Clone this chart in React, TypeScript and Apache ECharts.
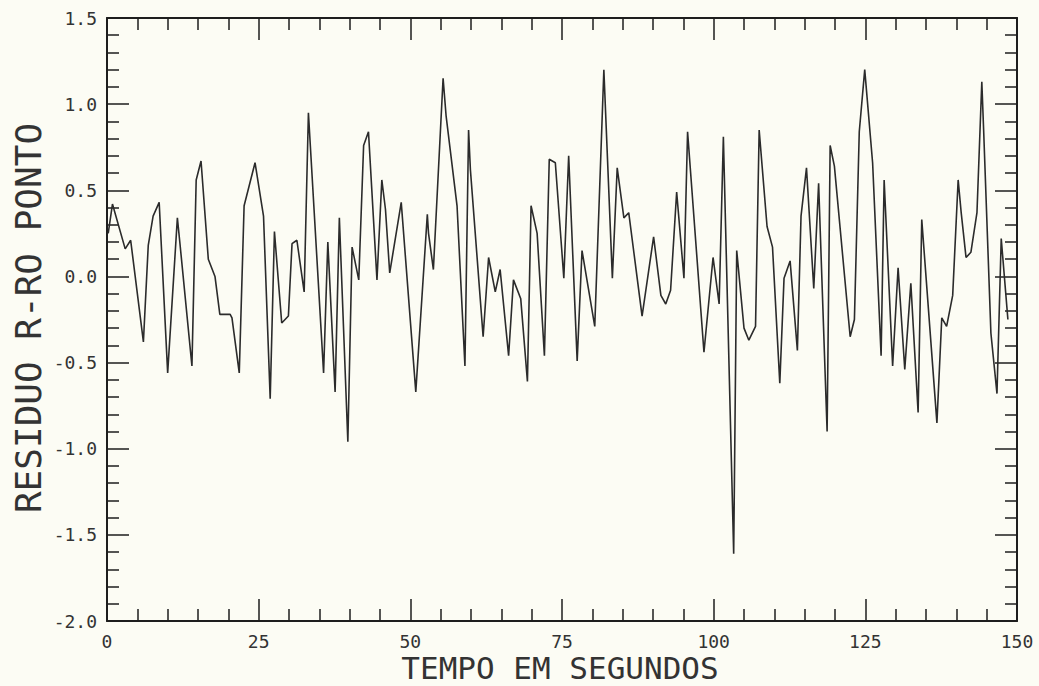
import React, { useEffect, useRef } from "react";
import * as echarts from "echarts";

const times = [
  0.2, 0.9, 3.0, 3.9, 6.0, 6.8, 7.6, 8.6, 10.0, 11.6,
  12.0, 14.0, 14.7, 15.5, 16.7, 17.8, 18.6, 20.3, 20.6, 21.8,
  22.6, 24.4, 25.8, 26.9, 27.6, 28.8, 29.9, 30.5, 31.3, 32.5,
  33.2, 35.7, 36.4, 37.6, 38.3, 39.7, 40.4, 41.5, 42.3, 43.1,
  44.5, 45.3, 45.9, 46.6, 48.5, 50.9, 52.8, 53.0, 53.8, 55.4,
  55.9, 57.7, 59.0, 59.6, 59.9, 62.0, 62.9, 64.0, 64.8, 66.2,
  67.0, 68.2, 69.3, 69.9, 70.9, 72.1, 72.9, 73.9, 75.3, 76.1,
  77.5, 78.3, 80.4, 81.9, 83.3, 84.1, 85.2, 86.0, 88.2, 90.1,
  91.3, 92.1, 92.9, 93.9, 95.1, 95.7, 98.4, 99.9, 100.9, 101.6,
  103.3, 103.8, 105.0, 105.8, 106.9, 107.5, 108.8, 109.7, 110.9, 111.6,
  112.6, 113.8, 114.4, 115.3, 116.5, 117.3, 118.7, 119.2, 119.9, 122.5,
  123.2, 124.0, 124.9, 126.2, 127.6, 128.1, 129.5, 130.4, 131.5, 132.5,
  133.7, 134.3, 136.8, 137.6, 138.4, 139.4, 140.3, 140.8, 141.6, 142.4,
  143.4, 144.2, 144.5, 145.7, 146.7, 147.4, 148.5,
];

const residuals = [
  0.25, 0.42, 0.16, 0.21, -0.38, 0.18, 0.35, 0.43, -0.56, 0.34,
  0.2, -0.52, 0.56, 0.67, 0.1, 0.0, -0.22, -0.22, -0.24, -0.56,
  0.41, 0.66, 0.35, -0.71, 0.26, -0.27, -0.23, 0.19, 0.21, -0.09,
  0.95, -0.56, 0.2, -0.67, 0.34, -0.96, 0.17, -0.02, 0.76, 0.84,
  -0.02, 0.56, 0.39, 0.02, 0.43, -0.67, 0.36, 0.25, 0.04, 1.15,
  0.93, 0.41, -0.52, 0.85, 0.62, -0.35, 0.11, -0.09, 0.04, -0.46,
  -0.02, -0.13, -0.61, 0.41, 0.25, -0.46, 0.68, 0.66, -0.01, 0.7,
  -0.49, 0.15, -0.29, 1.2, -0.01, 0.63, 0.34, 0.37, -0.23, 0.23,
  -0.11, -0.16, -0.08, 0.49, -0.01, 0.84, -0.44, 0.11, -0.16, 0.81,
  -1.61, 0.15, -0.3, -0.37, -0.29, 0.85, 0.29, 0.17, -0.62, -0.01,
  0.09, -0.43, 0.35, 0.63, -0.07, 0.54, -0.9, 0.76, 0.64, -0.35,
  -0.25, 0.84, 1.2, 0.66, -0.46, 0.56, -0.52, 0.05, -0.54, -0.04,
  -0.79, 0.33, -0.85, -0.24, -0.29, -0.11, 0.56, 0.37, 0.11, 0.14,
  0.37, 1.13, 0.85, -0.33, -0.68, 0.22, -0.25,
];

const xTitle = "TEMPO EM SEGUNDOS";
const yTitle = "RESIDUO R-RO PONTO";
const xRange = { min: 0, max: 150, interval: 25 };
const yRange = { min: -2.0, max: 1.5, interval: 0.5 };

const FONT = "'DejaVu Sans Mono', monospace";
const INK = "#1e1e1e";

export default function App() {
  const ref = useRef<HTMLDivElement>(null);

  useEffect(() => {
    if (!ref.current) return;
    const chart = echarts.init(ref.current, undefined, { renderer: "svg" });
    const data = times.map((t, i) => [t, residuals[i]]);

    const tickCommon = {
      axisLine: { show: true, onZero: false, lineStyle: { color: INK, width: 2 } },
      axisTick: { show: true, inside: true, length: 22, lineStyle: { color: INK, width: 1.5 } },
      minorTick: { show: true, splitNumber: 5, length: 12, lineStyle: { color: INK, width: 1.5 } },
      splitLine: { show: false },
      minorSplitLine: { show: false },
    };

    chart.setOption({
      animation: false,
      backgroundColor: "#fcfcf4",
      grid: {
        left: 107,
        right: 22,
        top: 18,
        bottom: 65,
        containLabel: false,
        outerBoundsMode: "none",
      },
      graphic: [
        {
          type: "text",
          x: 560,
          y: 668,
          style: {
            text: xTitle,
            fill: "#333",
            fontFamily: FONT,
            fontSize: 31,
            textAlign: "center",
            textVerticalAlign: "middle",
          },
        },
        {
          type: "text",
          x: 28,
          y: 318,
          rotation: Math.PI / 2,
          style: {
            text: yTitle,
            fill: "#333",
            fontFamily: FONT,
            fontSize: 36,
            textAlign: "center",
            textVerticalAlign: "middle",
          },
        },
      ],
      xAxis: [
        {
          type: "value",
          position: "bottom",
          min: xRange.min,
          max: xRange.max,
          interval: xRange.interval,
          ...tickCommon,
          axisLabel: {
            show: true,
            margin: 11,
            color: "#333",
            fontFamily: FONT,
            fontSize: 18,
            formatter: (v: number) => String(v),
          },
        },
        {
          type: "value",
          position: "top",
          min: xRange.min,
          max: xRange.max,
          interval: xRange.interval,
          ...tickCommon,
          axisLabel: { show: false },
        },
      ],
      yAxis: [
        {
          type: "value",
          position: "left",
          min: yRange.min,
          max: yRange.max,
          interval: yRange.interval,
          ...tickCommon,
          axisLabel: {
            show: true,
            margin: 10,
            color: "#333",
            fontFamily: FONT,
            fontSize: 18,
            formatter: (v: number) => v.toFixed(1),
          },
        },
        {
          type: "value",
          position: "right",
          min: yRange.min,
          max: yRange.max,
          interval: yRange.interval,
          ...tickCommon,
          axisLabel: { show: false },
        },
      ],
      series: [
        {
          type: "line",
          xAxisIndex: 0,
          yAxisIndex: 0,
          data,
          showSymbol: false,
          symbol: "none",
          lineStyle: { color: "#2b2b2b", width: 1.6 },
        },
      ],
    });

    return () => chart.dispose();
  }, []);

  return (
    <div
      ref={ref}
      style={{ position: "fixed", left: 0, top: 0, width: 1039, height: 686 }}
    />
  );
}
